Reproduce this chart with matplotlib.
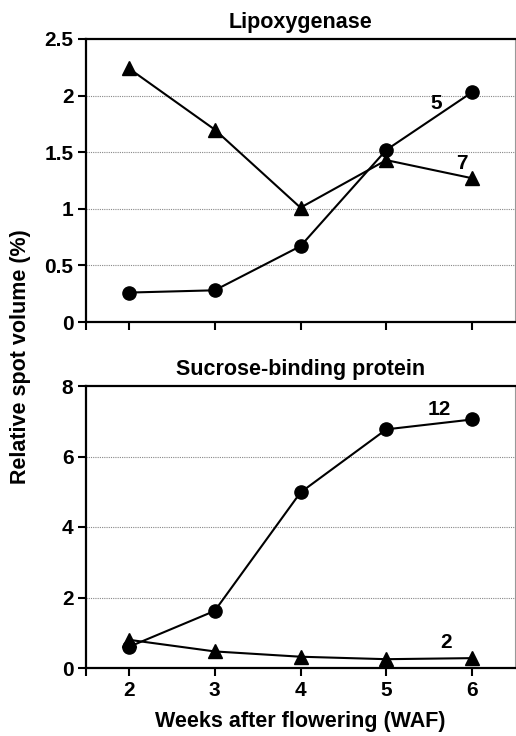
import matplotlib
matplotlib.use("Agg")
import matplotlib.pyplot as plt

plt.rcParams['font.family'] = ['Liberation Sans', 'DejaVu Sans']
plt.rcParams['font.weight'] = 'bold'

weeks = [2, 3, 4, 5, 6]
lox_spot5 = [0.26, 0.28, 0.67, 1.52, 2.03]
lox_spot7 = [2.24, 1.70, 1.01, 1.43, 1.27]
sbp_spot12 = [0.60, 1.62, 4.98, 6.77, 7.05]
sbp_spot2 = [0.80, 0.47, 0.32, 0.25, 0.28]

fig = plt.figure(figsize=(5.16, 7.36), dpi=100)
W, H = 516, 736

def make_ax(top_px, bottom_px):
    left = 86 / W
    right = 515 / W
    ax = fig.add_axes([left, 1 - bottom_px / H, right - left, (bottom_px - top_px) / H])
    return ax

ax1 = make_ax(39, 322)
ax2 = make_ax(386, 668)

TFS = 15

def style(ax, ymax, yticks, yticklabels, grid):
    ax.set_xlim(1.5, 6.5)
    ax.set_ylim(0, ymax)
    ax.set_yticks(yticks)
    ax.set_yticklabels(yticklabels, fontsize=TFS, fontweight='bold')
    ax.set_xticks([1.5, 2, 3, 4, 5, 6])
    for g in grid:
        ax.axhline(g, color='#888888', lw=0.8, ls=(0, (1, 1)), zorder=0)
    for s in ['left', 'bottom', 'top']:
        ax.spines[s].set_linewidth(1.6)
        ax.spines[s].set_color('black')
    ax.spines['right'].set_linewidth(0.8)
    ax.spines['right'].set_color('#999999')
    ax.tick_params(axis='both', direction='out', length=6, width=1.5, pad=3)

style(ax1, 2.5, [0, 0.5, 1, 1.5, 2, 2.5], ['0', '0.5', '1', '1.5', '2', '2.5'], [0.5, 1, 1.5, 2])
style(ax2, 8, [0, 2, 4, 6, 8], ['0', '2', '4', '6', '8'], [2, 4, 6])

ax1.set_xticklabels([])
ax2.set_xticklabels(['', '2', '3', '4', '5', '6'], fontsize=TFS, fontweight='bold')

kw = dict(color='black', lw=1.5, markersize=9.5, clip_on=False, zorder=3)
ax1.plot(weeks, lox_spot5, marker='o', **kw)
ax1.plot(weeks, lox_spot7, marker='^', **kw)
ax2.plot(weeks, sbp_spot12, marker='o', **kw)
ax2.plot(weeks, sbp_spot2, marker='^', **kw)

tk = dict(fontsize=TFS, fontweight='bold', ha='center', va='center')
ax1.text(5.58, 1.93, '5', **tk)
ax1.text(5.88, 1.40, '7', **tk)
ax2.text(5.62, 7.32, '12', **tk)
ax2.text(5.70, 0.71, '2', **tk)

ax1.set_title('Lipoxygenase', fontsize=15.5, fontweight='bold', pad=8)
ax2.set_title('Sucrose-binding protein', fontsize=15.5, fontweight='bold', pad=8)
ax2.set_xlabel('Weeks after flowering (WAF)', fontsize=15.5, fontweight='bold', labelpad=8)

fig.text(21 / W, 1 - 357 / H, 'Relative spot volume (%)', rotation=90, fontsize=15.5,
         fontweight='bold', ha='center', va='center')

fig.savefig('out.png', dpi=100)
